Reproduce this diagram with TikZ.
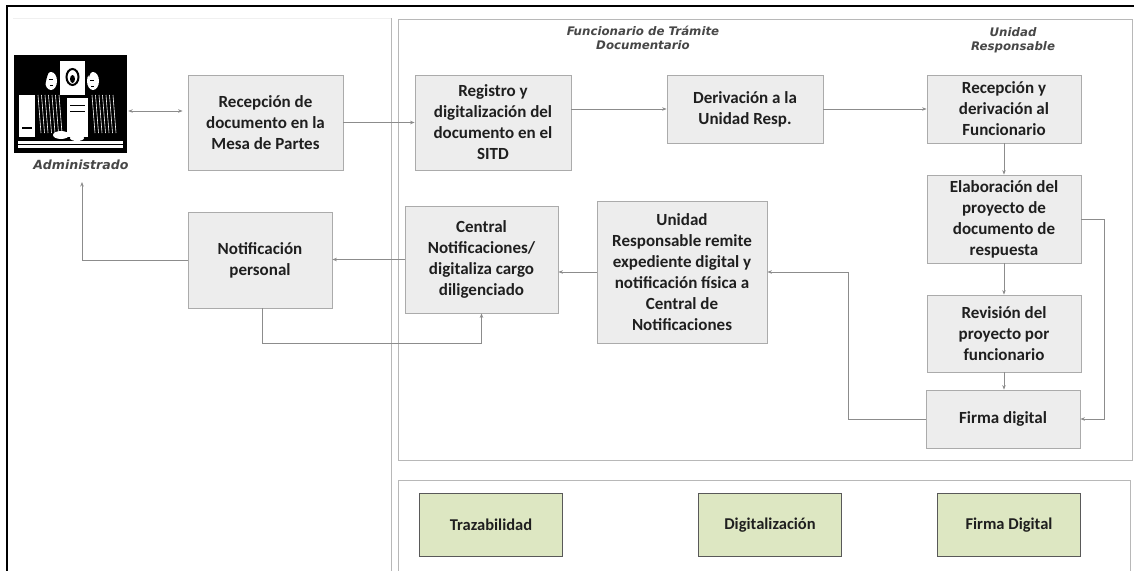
\documentclass[tikz,border=0pt]{standalone}
\usepackage{fontspec}
\setmainfont{Carlito}
\newfontfamily\labelfont{DejaVu Sans}
\usetikzlibrary{arrows.meta,calc}
\begin{document}
\begin{tikzpicture}[x=1pt,y=-1pt,
  stepbox/.style={draw=black!33, fill=black!7, line width=0.8pt, inner sep=0pt, align=center,
    font=\fontsize{17}{21}\selectfont\bfseries, text=black!88},
  greenbox/.style={draw=black!65, fill={rgb,255:red,221;green,231;blue,194}, line width=1pt,
    inner sep=0pt, align=center, minimum width=143pt, minimum height=63pt,
    font=\fontsize{16.5}{20}\selectfont\bfseries, text=black!88},
  lanelabel/.style={font=\labelfont\bfseries\itshape\fontsize{11.8}{14}\selectfont, text=black!72,
    align=center, inner sep=0pt},
  conn/.style={draw=black!45, line width=0.8pt, -{Stealth[length=4.5pt,width=3.5pt]}},
  lane/.style={draw=black!28, line width=0.9pt},
]
\useasboundingbox (0,0) rectangle (1134,570);
\fill[white] (0,0) rectangle (1134,570);

% outer frame and swimlane areas
\draw[line width=2pt] (7,571) -- (7,6) -- (1135,6);
\draw[black!6, line width=0.6pt] (13,18) -- (391,18);
\draw[lane] (391,18) -- (391,571);
\draw[lane] (398,19) rectangle (1132,460);
\draw[lane] (398,480) rectangle (1130,575);

% lane headings
\node[lanelabel] (lblft) at (643,38) {Funcionario de Trámite\\Documentario};
\node[lanelabel] (lblur) at (1013,40) {Unidad\\Responsable};

% the citizen (woodcut style figure)
\node[inner sep=0pt, minimum width=113pt, minimum height=98pt] (adm) at (70.5,104) {};
\begin{scope}[shift={(14,55)}]
  \fill[black] (0,0) rectangle (113,98);
  % wall with medallion between the two people
  \fill[white] (46,6) rectangle (71,40);
  \draw[line width=2pt] (58.5,22) ellipse (6 and 8);
  \fill[black] (58.5,24) ellipse (2.5 and 4);
  % woman on the left
  \fill[white] (37,26) ellipse (6 and 9);
  \fill[black] (27,10) .. controls (33,2) and (45,5) .. (45,17) -- (41,15)
        .. controls (37,12) and (33,17) .. (31,32) -- cycle;
  \draw[black, line width=0.7pt] (35,24) -- (39,24) (36,30) -- (39,30);
  % man on the right
  \fill[white] (79,26) ellipse (6 and 9);
  \fill[black] (72,15) .. controls (75,5) and (87,5) .. (89,14) -- (85,17)
        .. controls (81,13) and (77,15) .. (75,22) -- cycle;
  \draw[black, line width=0.7pt] (76,25) -- (80,25) (77,31) -- (80,31);
  % window and document
  \fill[white] (5,40) rectangle (21,82);
  \draw[black, line width=1.2pt] (8,73) -- (18,73);
  \fill[white] (53,43) rectangle (74,82);
  \draw[black, line width=0.8pt] (56,50) -- (71,50) (56,56) -- (71,56);
  % texture on the clothes
  \foreach \i in {0,...,6} {
    \draw[white, line width=0.6pt] (24+\i*3.5,40) -- (27+\i*3.5,78);
    \draw[white, line width=0.6pt] (78+\i*3.5,40) -- (81+\i*3.5,78);
  }
  % hands and counter
  \fill[white] (47,80) ellipse (8 and 4);
  \fill[white] (63,83) ellipse (7 and 3);
  \fill[white] (4,86) rectangle (109,93);
  \draw[black, line width=1.2pt] (4,89.5) -- (109,89.5);
\end{scope}
\node[font=\labelfont\bfseries\itshape\fontsize{12.6}{15}\selectfont, text=black!72, inner sep=0pt]
  (admlbl) at (81,165) {Administrado};

% process steps
\node[stepbox, minimum width=155pt, minimum height=95pt] (rec) at (265.5,122.5)
  {Recepción de\\documento en la\\Mesa de Partes};
\node[stepbox, minimum width=156pt, minimum height=95pt] (reg) at (493,122.5)
  {Registro y\\digitalización del\\documento en el\\SITD};
\node[stepbox, minimum width=156pt, minimum height=68pt] (der) at (745,109)
  {Derivación a la\\Unidad Resp.};
\node[stepbox, minimum width=154pt, minimum height=68pt] (rder) at (1004,109)
  {Recepción y\\derivación al\\Funcionario};
\node[stepbox, minimum width=154pt, minimum height=88pt] (ela) at (1004,219)
  {Elaboración del\\proyecto de\\documento de\\respuesta};
\node[stepbox, minimum width=154pt, minimum height=77pt] (rev) at (1004,333.5)
  {Revisión del\\proyecto por\\funcionario};
\node[stepbox, minimum width=154pt, minimum height=58pt] (firma) at (1003,419)
  {Firma digital};
\node[stepbox, minimum width=170pt, minimum height=142pt] (urem) at (682,272)
  {Unidad\\Responsable remite\\expediente digital y\\notificación física a\\Central de\\Notificaciones};
\node[stepbox, minimum width=153pt, minimum height=107pt] (cen) at (481.5,259.5)
  {Central\\Notificaciones/\\digitaliza cargo\\diligenciado};
\node[stepbox, minimum width=144pt, minimum height=96pt] (notif) at (260,260)
  {Notificación\\personal};

% supporting pillars
\node[greenbox] (traz) at (491,525) {Trazabilidad};
\node[greenbox] (digi) at (770,525) {Digitalización};
\node[greenbox] (fdig) at (1009,525) {Firma Digital};

% connectors
\draw[conn, {Stealth[length=4.5pt,width=3.5pt]}-{Stealth[length=4.5pt,width=3.5pt]},
  shorten <=1pt, shorten >=5pt] ([yshift=-7pt]adm.east) -- ([yshift=-7pt]adm.east -| rec.west);
\draw[conn] (rec.east) -- (rec.east -| reg.west);
\draw[conn] (reg.east |- der.west) -- (der.west);
\draw[conn] (der.east) -- (rder.west);
\draw[conn] (rder.south) -- (ela.north);
\draw[conn] (ela.south) -- (rev.north);
\draw[conn] (rev.south) -- (rev.south |- firma.north);
\coordinate (loopr) at (1104,219);
\draw[conn] (ela.east) -- (loopr) |- (firma.east);
\coordinate (loopl) at (848,272);
\draw[conn] (firma.west) -| (loopl) -- (urem.east);
\draw[conn] (urem.west) -- (urem.west -| cen.east);
\draw[conn] (cen.west) -- (cen.west -| notif.east);
\coordinate (admtip) at (82,182);
\draw[conn] (notif.west) -| (admtip);
\coordinate (notifdown) at (262,343);
\draw[conn] (notif.south -| notifdown) -- (notifdown) -| (cen.south);
\end{tikzpicture}
\end{document}
